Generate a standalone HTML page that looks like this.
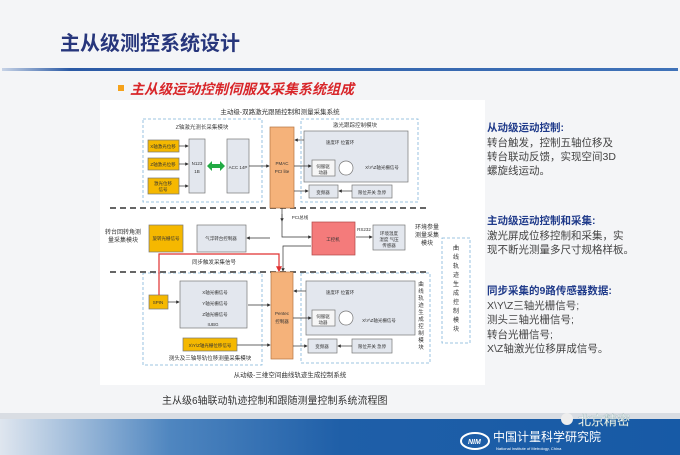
<!DOCTYPE html>
<html><head><meta charset="utf-8"><style>
html,body{margin:0;padding:0;width:680px;height:455px;overflow:hidden;background:#f3f4f6}
svg{display:block}
text{font-family:"Liberation Sans","Noto Sans CJK SC",sans-serif}
</style></head><body>
<svg width="680" height="455" viewBox="0 0 680 455" xmlns="http://www.w3.org/2000/svg">
<defs>
<linearGradient id="ft" x1="0" x2="1" y1="0" y2="0">
<stop offset="0" stop-color="#dfe6ef"/><stop offset="0.25" stop-color="#4f86c0"/><stop offset="0.5" stop-color="#1f5fa8"/><stop offset="1" stop-color="#175aa6"/>
</linearGradient>
<linearGradient id="bl" x1="0" x2="1"><stop offset="0" stop-color="#c7d3e6"/><stop offset="0.1" stop-color="#2b5aa5"/><stop offset="1" stop-color="#3f72b8"/></linearGradient>
<marker id="a" markerWidth="5" markerHeight="5" refX="4" refY="2.5" orient="auto"><path d="M0,0L5,2.5L0,5z" fill="#333"/></marker>
<marker id="ar" markerWidth="5" markerHeight="5" refX="4" refY="2.5" orient="auto"><path d="M0,0L5,2.5L0,5z" fill="#e03030"/></marker>
</defs>
<rect x="0" y="0" width="680" height="455" fill="#f4f5f7"/>
<text x="60" y="50" font-size="20" font-weight="bold" fill="#27367c">主从级测控系统设计</text>
<rect x="2" y="68" width="676" height="3" fill="url(#bl)"/>
<!-- diagram panel -->
<rect x="100" y="100" width="385" height="285" fill="#fff"/>
<rect x="118" y="85" width="6" height="6" fill="#f5a21b"/>
<text x="130" y="94" font-size="14" font-weight="bold" font-style="italic" fill="#d8262a">主从级运动控制伺服及采集系统组成</text>
<text x="280" y="114" font-size="6.5" fill="#333" text-anchor="middle">主动级-双路激光跟随控制和测量采集系统</text>
<g fill="none" stroke="#7fb4d9" stroke-width="0.8" stroke-dasharray="3,2">
<rect x="143" y="119" width="119" height="83"/><rect x="301" y="119" width="117" height="83"/>
<rect x="143" y="273" width="119" height="92"/><rect x="301" y="273" width="129" height="90"/>
<rect x="442" y="238" width="28" height="105"/>
</g>
<g stroke="#666" stroke-width="2" stroke-dasharray="6,4"><line x1="110" y1="208" x2="430" y2="208"/><line x1="110" y1="272" x2="430" y2="272"/></g>
<text x="202" y="129" font-size="5.5" fill="#444" text-anchor="middle">Z轴激光测长采集模块</text>
<text x="355" y="127" font-size="5.5" fill="#444" text-anchor="middle">激光跟踪控制模块</text>
<g fill="#f5b800" stroke="#777" stroke-width="0.7">
<rect x="148" y="140" width="31" height="12"/><rect x="148" y="158" width="31" height="12"/><rect x="148" y="178" width="31" height="16"/>
<rect x="149" y="225" width="34" height="27"/>
<rect x="149" y="295" width="19" height="14"/>
<rect x="190" y="288" width="50" height="8"/><rect x="190" y="299" width="50" height="8"/><rect x="190" y="310" width="50" height="8"/>
<rect x="183" y="338" width="54" height="13"/>
<rect x="359" y="162" width="46" height="14"/><rect x="358" y="312" width="42" height="16"/>
</g>
<g fill="#e3e7ee" stroke="#777" stroke-width="0.7">
<rect x="189" y="139" width="16" height="54"/><rect x="227" y="139" width="22" height="54"/>
<rect x="304" y="131" width="104" height="51"/><rect x="306" y="281" width="109" height="54"/>
<rect x="197" y="225" width="49" height="27"/><rect x="373" y="225" width="32" height="25"/>
<rect x="180" y="281" width="67" height="47"/>
<rect x="309" y="185" width="29" height="13"/><rect x="352" y="185" width="40" height="13"/>
<rect x="308" y="339" width="29" height="14"/><rect x="352" y="339" width="40" height="14"/>
<rect x="312" y="160" width="23" height="16" fill="#f6f6f6"/><rect x="312" y="310" width="23" height="16" fill="#f6f6f6"/>
</g>
<circle cx="346" cy="168" r="7" fill="#fff" stroke="#777" stroke-width="0.7"/>
<circle cx="346" cy="318" r="7" fill="#fff" stroke="#777" stroke-width="0.7"/>
<rect x="270" y="127" width="24" height="81" fill="#f5b27a" stroke="#b57540" stroke-width="0.7"/>
<rect x="271" y="272" width="22" height="87" fill="#f5b27a" stroke="#b57540" stroke-width="0.7"/>
<rect x="312" y="222" width="43" height="33" fill="#f47b7b" stroke="#b04848" stroke-width="0.7"/>
<g font-size="4.5" fill="#333" text-anchor="middle">
<text x="163" y="148">X轴激光位移</text><text x="163" y="166">Z轴激光位移</text><text x="163" y="185">激光位移</text><text x="163" y="191">信号</text>
<text x="197" y="165">N123</text><text x="197" y="173">1B</text><text x="238" y="169">ACC 14P</text>
<text x="282" y="165">PMAC</text><text x="282" y="173">PCI lite</text>
<text x="282" y="315">Pentec</text><text x="282" y="323">控制器</text>
<text x="333" y="241">工控机</text><text x="166" y="240">旋转光栅信号</text><text x="221" y="240">气浮转台控制器</text>
<text x="389" y="235">环境温度</text><text x="389" y="241">湿度 气压</text><text x="389" y="247">传感器</text>
<text x="158" y="304">SPIN</text><text x="215" y="294">X轴光栅信号</text><text x="215" y="305">Y轴光栅信号</text><text x="215" y="316">Z轴光栅信号</text><text x="213" y="326">IUBG</text>
<text x="210" y="347">X\Y\Z轴光栅位移信号</text><text x="382" y="169">X\Y\Z轴光栅信号</text><text x="379" y="322">X\Y\Z轴光栅信号</text>
<text x="323" y="194">变频器</text><text x="372" y="194">限位开关 急停</text><text x="322" y="348">变频器</text><text x="372" y="348">限位开关 急停</text>
<text x="323" y="168">伺服驱</text><text x="323" y="174">动器</text><text x="323" y="318">伺服驱</text><text x="323" y="324">动器</text>
<text x="340" y="144">速度环 位置环</text><text x="340" y="294">速度环 位置环</text>
<text x="214" y="264" font-size="5.5">同步触发采集信号</text><text x="300" y="219">PCI总线</text><text x="364" y="231">RS232</text>
</g>
<text x="123" y="234" font-size="6" fill="#333" text-anchor="middle">转台回转角测</text>
<text x="123" y="242" font-size="6" fill="#333" text-anchor="middle">量采集模块</text>
<text x="427" y="229" font-size="6" fill="#333" text-anchor="middle">环境参量</text>
<text x="427" y="237" font-size="6" fill="#333" text-anchor="middle">测量采集</text>
<text x="427" y="245" font-size="6" fill="#333" text-anchor="middle">模块</text>
<text font-size="6" fill="#333" text-anchor="middle"><tspan x="456" y="250">曲</tspan><tspan x="456" y="259">线</tspan><tspan x="456" y="268">轨</tspan><tspan x="456" y="277">迹</tspan><tspan x="456" y="286">生</tspan><tspan x="456" y="295">成</tspan><tspan x="456" y="304">控</tspan><tspan x="456" y="313">制</tspan><tspan x="456" y="322">模</tspan><tspan x="456" y="331">块</tspan></text>
<text font-size="5.5" fill="#333" text-anchor="middle"><tspan x="421" y="286">曲</tspan><tspan x="421" y="293">线</tspan><tspan x="421" y="300">轨</tspan><tspan x="421" y="307">迹</tspan><tspan x="421" y="314">生</tspan><tspan x="421" y="321">成</tspan><tspan x="421" y="328">控</tspan><tspan x="421" y="335">制</tspan><tspan x="421" y="342">模</tspan><tspan x="421" y="349">块</tspan></text>
<text x="210" y="360" font-size="5.5" fill="#333" text-anchor="middle">测头及三轴导轨位移测量采集模块</text>
<text x="290" y="377" font-size="6.5" fill="#333" text-anchor="middle">从动级-三维空间曲线轨迹生成控制系统</text>
<!-- connectors -->
<g stroke="#333" stroke-width="0.7" fill="none" marker-end="url(#a)">
<line x1="179" y1="146" x2="188" y2="146"/><line x1="179" y1="164" x2="188" y2="164"/><line x1="179" y1="186" x2="188" y2="186"/>
<line x1="249" y1="166" x2="269" y2="166"/><line x1="294" y1="166" x2="311" y2="166"/><line x1="304" y1="140" x2="295" y2="140"/>
<line x1="294" y1="191" x2="308" y2="191"/><line x1="352" y1="191" x2="339" y2="191"/>
<line x1="282" y1="208" x2="282" y2="221"/><path d="M282,214 L282,237 L311,237"/><path d="M311,246 L283,246 L283,271"/>
<line x1="356" y1="237" x2="372" y2="237"/><line x1="270" y1="238" x2="247" y2="238"/>
<line x1="168" y1="302" x2="179" y2="302"/><line x1="248" y1="305" x2="270" y2="305"/><line x1="237" y1="345" x2="270" y2="345"/>
<line x1="293" y1="318" x2="311" y2="318"/><line x1="306" y1="291" x2="294" y2="291"/>
<line x1="293" y1="346" x2="307" y2="346"/><line x1="352" y1="346" x2="338" y2="346"/>
</g>
<path d="M159,295 L159,254 L279,254 L279,271" stroke="#e03030" stroke-width="1.2" fill="none" marker-end="url(#ar)"/>
<path d="M209,166 L223,166" stroke="#22aa44" stroke-width="4"/><path d="M207,166 l5,-5 v10z M225,166 l-5,-5 v10z" fill="#22aa44"/>
<text x="162" y="404" font-size="10" fill="#333">主从级6轴联动轨迹控制和跟随测量控制系统流程图</text>
<!-- right text -->
<g font-size="10.5">
<text x="487" y="131" font-weight="bold" fill="#1f3a8a">从动级运动控制:</text>
<text x="487" y="146" fill="#444">转台触发，控制五轴位移及</text>
<text x="487" y="160" fill="#444">转台联动反馈，实现空间3D</text>
<text x="487" y="174" fill="#444">螺旋线运动。</text>
<text x="487" y="224" font-weight="bold" fill="#1f3a8a">主动级运动控制和采集:</text>
<text x="487" y="239" fill="#444">激光屏成位移控制和采集，实</text>
<text x="487" y="253" fill="#444">现不断光测量多尺寸规格样板。</text>
<text x="487" y="294" font-weight="bold" fill="#1f3a8a">同步采集的9路传感器数据:</text>
<text x="487" y="309" fill="#444">X\Y\Z三轴光栅信号;</text>
<text x="487" y="323" fill="#444">测头三轴光栅信号;</text>
<text x="487" y="338" fill="#444">转台光栅信号;</text>
<text x="487" y="352" fill="#444">X\Z轴激光位移屏成信号。</text>
</g>
<!-- footer -->
<rect x="0" y="413" width="680" height="6" fill="#d9dde3"/>
<rect x="0" y="419" width="680" height="36" fill="url(#ft)"/>
<ellipse cx="475" cy="441" rx="14" ry="8" fill="none" stroke="#fff" stroke-width="2"/>
<text x="468" y="444" font-size="7" font-weight="bold" font-style="italic" fill="#fff">NIM</text>
<text x="493" y="441" font-size="12" fill="#fff">中国计量科学研究院</text>
<text x="496" y="450" font-size="4" fill="#fff">National Institute of Metrology, China</text>
<circle cx="567" cy="419" r="6" fill="#eee"/>
<text x="578" y="425" font-size="13" fill="#fff" stroke="#8aa" stroke-width="0.3">北京精密</text>
</svg>
</body></html>
